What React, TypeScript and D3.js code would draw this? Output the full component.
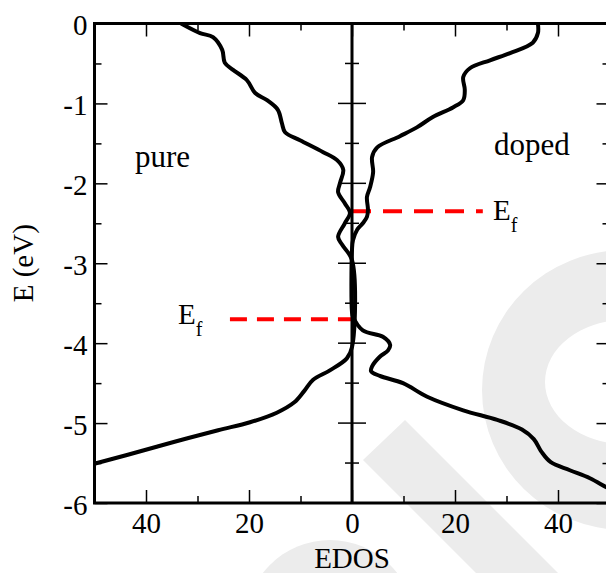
import { useEffect, useRef } from "react";
import * as d3 from "d3";

// pure system EDOS (drawn mirrored on the left side), [EDOS, E]
const pureEdos = [33.2, 29.5, 27.0, 25.2, 24.7, 23.1, 20.4, 18.8, 16.5, 14.4, 13.6, 13.0, 10.1, 5.6, 2.9, 1.7, 2.3, 2.7, 1.4, 0.4, 1.4, 2.7, 1.9, 0, 0, 1.0, 4.3, 7.6, 9.3, 11.2, 14.6, 19.8, 26.0, 34.8, 43.7, 49.5, 52.0];
const pureE = [0, -0.12, -0.17, -0.33, -0.49, -0.58, -0.71, -0.87, -0.96, -1.08, -1.25, -1.36, -1.46, -1.61, -1.71, -1.83, -1.99, -2.11, -2.25, -2.37, -2.5, -2.67, -2.77, -2.96, -4.05, -4.19, -4.34, -4.46, -4.6, -4.74, -4.87, -4.99, -5.09, -5.24, -5.4, -5.5, -5.54];

// doped system EDOS (right side)
const dopedEdos = [36.1, 36.1, 35.1, 30.7, 26.8, 22.9, 21.6, 21.9, 21.6, 19.6, 15.7, 12.6, 9.3, 4.9, 3.9, 4.1, 3.5, 2.9, 3.1, 2.9, 2.1, 1.0, 0.2, 0, 0, 0.2, 2.1, 6.0, 7.4, 7.0, 5.4, 3.9, 3.7, 5.4, 9.9, 14.6, 21.6, 28.2, 33.0, 35.3, 36.8, 38.6, 42.3, 46.2, 49.3, 50.5];
const dopedE = [0, -0.12, -0.24, -0.37, -0.46, -0.56, -0.67, -0.83, -0.96, -1.05, -1.17, -1.3, -1.41, -1.55, -1.67, -1.86, -2.05, -2.17, -2.33, -2.42, -2.5, -2.58, -2.71, -2.83, -3.61, -3.67, -3.84, -3.92, -4.02, -4.09, -4.17, -4.29, -4.35, -4.41, -4.5, -4.67, -4.84, -4.96, -5.08, -5.2, -5.36, -5.49, -5.59, -5.69, -5.8, -5.84];

// Fermi levels: [edos from, edos to, E]
const pureFermi = [-23.7, 0, -3.7];
const dopedFermi = [0, 25.4, -2.35];

const xMajor = [-40, -20, 0, 20, 40];
const xMinor = [-50, -30, -10, 10, 30, 50];
const yMajor = [0, -1, -2, -3, -4, -5, -6];
const yMinor = [-0.5, -1.5, -2.5, -3.5, -4.5, -5.5];

const FONT = "Liberation Serif, Tinos, DejaVu Serif, serif";

export default function App() {
  const svgRef = useRef<SVGSVGElement>(null);

  useEffect(() => {
    if (!svgRef.current) return;
    const width = 606;
    const height = 573;
    const svg = d3.select(svgRef.current);
    svg.selectAll("*").remove();

    const left = 94.5, right = 609.5, top = 23.5, bottom = 503;
    const x = d3.scaleLinear().domain([-50, 50]).range([left, right]);
    const y = d3.scaleLinear().domain([0, -6]).range([top, bottom]);

    // faint watermark in the background
    const wm = svg.append("g").attr("fill", "#ececec");
    wm.append("path")
      .attr("fill-rule", "evenodd")
      .attr(
        "d",
        "M482,390 a143,140 0 1,0 286,0 a143,140 0 1,0 -286,0 Z M545,382 a80,62 0 1,0 160,0 a80,62 0 1,0 -160,0 Z"
      );
    wm.append("polygon").attr("points", "363,460 405,420 600,615 558,655");
    wm.append("circle").attr("cx", 330).attr("cy", 625).attr("r", 85);

    svg.append("defs")
      .append("clipPath")
      .attr("id", "plotclip")
      .append("rect")
      .attr("x", left)
      .attr("y", top)
      .attr("width", right - left)
      .attr("height", bottom - top);

    // Fermi level markers
    const fermi = [
      { v: pureFermi, dash: "17 10" },
      { v: dopedFermi, dash: "19 12" },
    ];
    fermi.forEach((f) => {
      svg.append("line")
        .attr("x1", x(f.v[0]))
        .attr("x2", x(f.v[1]))
        .attr("y1", y(f.v[2]))
        .attr("y2", y(f.v[2]))
        .attr("stroke", "#ff0000")
        .attr("stroke-width", 4)
        .attr("stroke-dasharray", f.dash);
    });

    // axes (ticks pointing inward)
    const fmt = (d: d3.NumberValue) => String(Math.abs(+d));
    const styleAxis = (sel: d3.Selection<SVGGElement, unknown, null, undefined>) => {
      sel.attr("font-family", null).attr("font-size", null);
      sel.select(".domain").remove();
      sel.selectAll(".tick line").attr("stroke", "#000").attr("stroke-width", 1.5);
      sel.selectAll(".tick text")
        .attr("fill", "#000")
        .style("font-family", FONT)
        .style("font-size", "29px");
    };

    const bottomAxis = svg.append("g")
      .attr("transform", `translate(0,${bottom})`)
      .call(d3.axisBottom(x).tickValues(xMajor).tickSize(-13).tickPadding(9).tickFormat(fmt));
    styleAxis(bottomAxis);
    const bottomMinor = svg.append("g")
      .attr("transform", `translate(0,${bottom})`)
      .call(d3.axisBottom(x).tickValues(xMinor).tickSize(-7).tickFormat(() => ""));
    styleAxis(bottomMinor);

    const topAxis = svg.append("g")
      .attr("transform", `translate(0,${top})`)
      .call(d3.axisTop(x).tickValues(xMajor).tickSize(-13).tickFormat(() => ""));
    styleAxis(topAxis);
    const topMinor = svg.append("g")
      .attr("transform", `translate(0,${top})`)
      .call(d3.axisTop(x).tickValues(xMinor).tickSize(-7).tickFormat(() => ""));
    styleAxis(topMinor);

    const leftAxis = svg.append("g")
      .attr("transform", `translate(${left},0)`)
      .call(d3.axisLeft(y).tickValues(yMajor).tickSize(-13).tickPadding(7).tickFormat((d) => String(d)));
    styleAxis(leftAxis);
    leftAxis.selectAll(".tick text").attr("dy", "0.38em");
    const leftMinor = svg.append("g")
      .attr("transform", `translate(${left},0)`)
      .call(d3.axisLeft(y).tickValues(yMinor).tickSize(-7).tickFormat(() => ""));
    styleAxis(leftMinor);

    const rightAxis = svg.append("g")
      .attr("transform", `translate(${right},0)`)
      .call(d3.axisRight(y).tickValues(yMajor).tickSize(-13).tickFormat(() => ""));
    styleAxis(rightAxis);
    const rightMinor = svg.append("g")
      .attr("transform", `translate(${right},0)`)
      .call(d3.axisRight(y).tickValues(yMinor).tickSize(-7).tickFormat(() => ""));
    styleAxis(rightMinor);

    // zero line with crossing ticks
    const x0 = x(0);
    const zero = svg.append("g").attr("stroke", "#000");
    zero.selectAll(".maj")
      .data(yMajor)
      .enter()
      .append("line")
      .attr("x1", x0 - 14)
      .attr("x2", x0 + 14)
      .attr("y1", (d) => y(d))
      .attr("y2", (d) => y(d))
      .attr("stroke-width", 1.5);
    zero.selectAll(".min")
      .data(yMinor)
      .enter()
      .append("line")
      .attr("x1", x0 - 7)
      .attr("x2", x0 + 7)
      .attr("y1", (d) => y(d))
      .attr("y2", (d) => y(d))
      .attr("stroke-width", 1.5);
    zero.append("line")
      .attr("x1", x0)
      .attr("x2", x0)
      .attr("y1", top)
      .attr("y2", bottom)
      .attr("stroke-width", 3);

    // frame
    svg.append("rect")
      .attr("x", left)
      .attr("y", top)
      .attr("width", right - left)
      .attr("height", bottom - top)
      .attr("fill", "none")
      .attr("stroke", "#000")
      .attr("stroke-width", 3);

    // EDOS curves
    const line = d3
      .line<[number, number]>()
      .x((d) => x(d[0]))
      .y((d) => y(d[1]))
      .curve(d3.curveCatmullRom.alpha(0.5));

    const pureData = pureEdos.map((v, i) => [-v, pureE[i]] as [number, number]);
    const dopedData = dopedEdos.map((v, i) => [v, dopedE[i]] as [number, number]);
    const curves = svg.append("g").attr("clip-path", "url(#plotclip)");
    [pureData, dopedData].forEach((dat) => {
      curves.append("path")
        .datum(dat)
        .attr("fill", "none")
        .attr("stroke", "#000")
        .attr("stroke-width", 4)
        .attr("stroke-linejoin", "round")
        .attr("d", line);
    });

    // labels
    const txt = svg.append("g").style("font-family", FONT).attr("fill", "#000");
    txt.append("text")
      .attr("transform", `translate(33,${(top + bottom) / 2}) rotate(-90)`)
      .attr("text-anchor", "middle")
      .style("font-size", "29px")
      .text("E (eV)");
    txt.append("text")
      .attr("x", (left + right) / 2)
      .attr("y", 568)
      .attr("text-anchor", "middle")
      .style("font-size", "29px")
      .text("EDOS");
    txt.append("text").attr("x", 135).attr("y", 167).style("font-size", "31px").text("pure");
    txt.append("text").attr("x", 494).attr("y", 155).style("font-size", "31px").text("doped");

    const ef = [
      { x: 178, y: 324 },
      { x: 493, y: 220 },
    ];
    ef.forEach((p) => {
      const t = txt.append("text").attr("x", p.x).attr("y", p.y).style("font-size", "29px");
      t.append("tspan").text("E");
      t.append("tspan").attr("dy", 12).style("font-size", "20px").text("f");
    });

    svg.attr("width", width).attr("height", height);
  }, []);

  return (
    <svg
      ref={svgRef}
      width={606}
      height={573}
      style={{ position: "absolute", left: 0, top: 0, background: "#fff" }}
    />
  );
}
